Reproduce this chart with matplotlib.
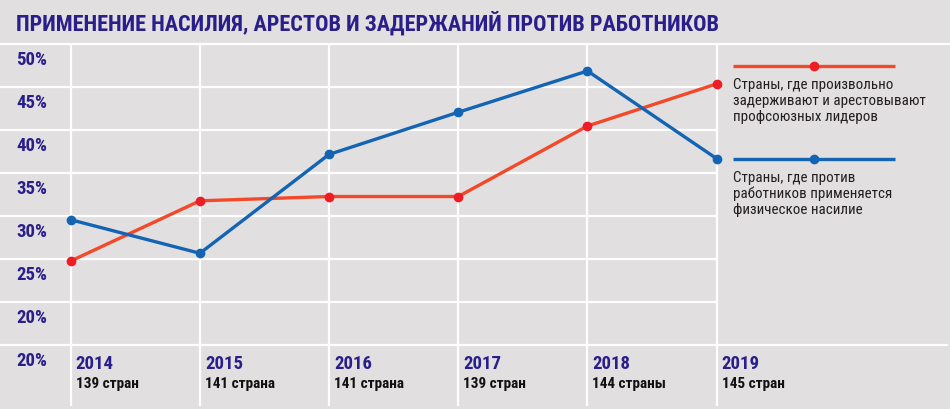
import matplotlib
matplotlib.use("Agg")
import matplotlib.pyplot as plt
from matplotlib.transforms import offset_copy

# data
years = [2014, 2015, 2016, 2017, 2018, 2019]
country_counts = ["139 стран", "141 страна", "141 страна", "139 стран", "144 страны", "145 стран"]
arrests = [24.8, 31.8, 32.3, 32.3, 40.5, 45.4]    # произвольные задержания и аресты
violence = [29.6, 25.7, 37.2, 42.1, 46.9, 36.7]   # физическое насилие
grid_values = [50, 45, 40, 35, 30, 25, 20, 15]
ytick_labels = ["50%", "45%", "40%", "35%", "30%", "25%", "20%", "20%"]

title = "ПРИМЕНЕНИЕ НАСИЛИЯ, АРЕСТОВ И ЗАДЕРЖАНИЙ ПРОТИВ РАБОТНИКОВ"
label_arrests = "Страны, где произвольно\nзадерживают и арестовывают\nпрофсоюзных лидеров"
label_violence = "Страны, где против\nработников применяется\nфизическое насилие"

BG = "#e1dfe0"
NAVY = "#2a1f8a"
ORANGE = "#f2492a"
RED = "#ee1c25"
BLUE = "#1464b4"
TEXT = "#231f20"
FONT = ["Liberation Sans Narrow", "DejaVu Sans Condensed", "Roboto Condensed", "DejaVu Sans"]

W, H = 950, 410
x0, xstep = 70.7, 129.2
y0, ystep = 45.3, 8.6

fig = plt.figure(figsize=(W / 100, H / 100), dpi=100, facecolor=BG)
ax = fig.add_axes([0, 0, 1, 1])
ax.set_facecolor(BG)
xl = years[0] - x0 / xstep
xr = years[0] + (W - x0) / xstep
yt = grid_values[0] + y0 / ystep
yb = grid_values[0] - (H - y0) / ystep
ax.set_xlim(xl, xr)
ax.set_ylim(yb, yt)
for s in ax.spines.values():
    s.set_visible(False)
ax.set_xticks([])
ax.set_yticks([])

def px(x, y):
    return x / W, 1 - y / H

# white grid
gw = 1.6
ax.hlines(grid_values[0], xl, xr, color="white", lw=gw, zorder=1)
ax.hlines(grid_values[1:-1], xl, years[-1], color="white", lw=gw, zorder=1)
ax.hlines(grid_values[-1], xl, years[0] + (948 - x0) / xstep, color="white", lw=gw, zorder=1)
ax.vlines(years, grid_values[0] - (407 - y0) / ystep, grid_values[0], color="white", lw=gw, zorder=1)

# series
ax.plot(years, arrests, color=ORANGE, lw=2.4, zorder=3, solid_capstyle="butt")
ax.plot(years, arrests, "o", color=RED, ms=6, zorder=4)
ax.plot(years, violence, color=BLUE, lw=2.4, zorder=3, solid_capstyle="butt")
ax.plot(years, violence, "o", color=BLUE, ms=6, zorder=4)

# y labels, just below each gridline
lab_tr = offset_copy(ax.transData, fig=fig, x=0, y=-15 * 0.72, units="points")
for v, lab in zip(grid_values, ytick_labels):
    ax.text(xl + 16 / xstep, v, lab, transform=lab_tr, ha="left", va="center",
            fontsize=13.5, fontweight="bold", fontstretch="condensed", color=NAVY, family=FONT)

# year labels and country counts
yr_tr = offset_copy(ax.transData, fig=fig, x=5 * 0.72, y=-18 * 0.72, units="points")
cnt_tr = offset_copy(ax.transData, fig=fig, x=5 * 0.72, y=-38 * 0.72, units="points")
for yr, cnt in zip(years, country_counts):
    ax.text(yr, grid_values[-1], str(yr), transform=yr_tr, ha="left", va="center",
            fontsize=13.5, fontweight="bold", fontstretch="condensed", color=NAVY, family=FONT)
    ax.text(yr, grid_values[-1], cnt, transform=cnt_tr, ha="left", va="center",
            fontsize=11, fontweight="bold", fontstretch="condensed", color="#111111", family=FONT)

# title
ax.text(*px(16, 23), title, transform=ax.transAxes, ha="left", va="center",
        fontsize=16, fontweight="bold", fontstretch="condensed", color=NAVY, family=FONT)

# legend drawn by hand
for ly, col, mcol, lab in [(67.3, ORANGE, RED, label_arrests),
                           (160, BLUE, BLUE, label_violence)]:
    ax.plot([733 / W, 895 / W], [1 - ly / H] * 2, color=col, lw=2.4,
            transform=ax.transAxes, solid_capstyle="butt")
    ax.plot([814 / W], [1 - ly / H], "o", color=mcol, ms=6, transform=ax.transAxes)
    ax.text(*px(733, ly + 11), lab, transform=ax.transAxes, ha="left", va="top",
            fontsize=10.8, fontstretch="condensed", color=TEXT, family=FONT, linespacing=1.15)

fig.savefig("out.png", dpi=100, facecolor=BG)
